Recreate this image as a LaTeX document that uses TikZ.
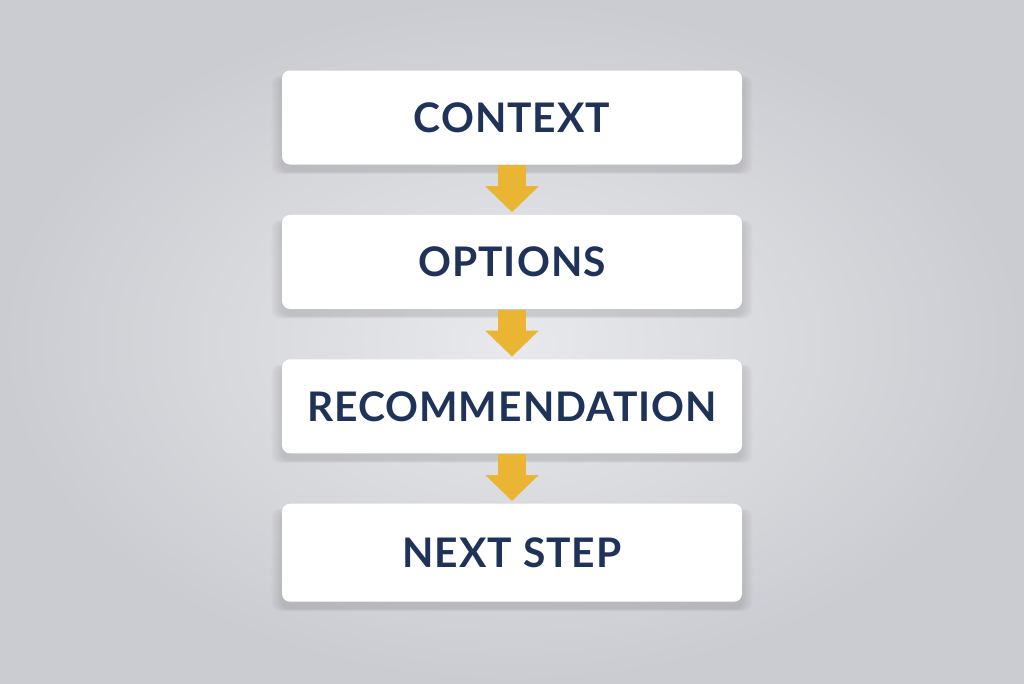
\documentclass[tikz,border=0pt]{standalone}
\usepackage{fontspec}
\setmainfont{Lato}[LetterSpace=2.5]
\usetikzlibrary{positioning,arrows.meta,shadows}
\definecolor{navy}{HTML}{1F3257}
\definecolor{gold}{HTML}{E9B532}
\definecolor{bginner}{HTML}{E8E9EC}
\definecolor{bgouter}{HTML}{CBCCD1}
\tikzset
{
    softshadow/.style = {general shadow={shadow scale=#1, shadow yshift=-0.07cm,
                                         fill=black, opacity=0.025}},
    stepbox/.style = {rectangle, rounded corners=0.08cm, fill=white, draw=none,
                      minimum width=4.6cm, minimum height=0.94cm, text=navy,
                      font=\bfseries\fontsize{11.6}{12}\selectfont,
                      softshadow=1.045, softshadow=1.035, softshadow=1.025,
                      softshadow=1.015, softshadow=1.005},
    flow/.style     = {draw=gold, line width=0.28cm, shorten >=0.02cm,
                      -{Triangle[width=0.52cm, length=0.26cm]}}
}
\begin{document}
\begin{tikzpicture}[node distance=0.49cm]
\shade[inner color=bginner, outer color=bgouter] (0,0) rectangle (10.24,-6.83);
\useasboundingbox (0,0) rectangle (10.24,-6.83);
\node [stepbox] at (5.12,-1.175) (context) {CONTEXT};
\node [stepbox, below=of context] (options) {OPTIONS};
\node [stepbox, below=of options] (recommend) {RECOMMENDATION};
\node [stepbox, below=of recommend, minimum height=0.98cm] (nextstep) {NEXT STEP};
\draw [flow] (context) -- (options);
\draw [flow] (options) -- (recommend);
\draw [flow] (recommend) -- (nextstep);
\end{tikzpicture}
\end{document}
